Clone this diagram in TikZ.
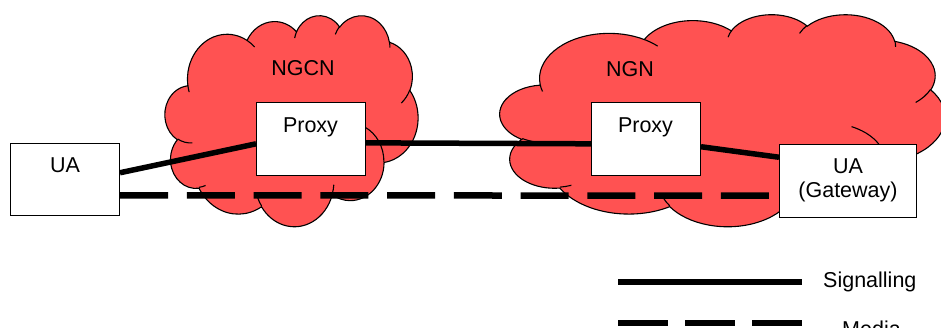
\documentclass[tikz,border=0pt]{standalone}
\usepackage{fontspec}
\setmainfont{Liberation Sans}
\definecolor{cloudred}{RGB}{255,82,82}
\tikzset{
  cld/.code n args={4}{%
    \pgfmathsetmacro\cldTs{atan2((#1)*sin(#3),(#2)*cos(#3))}%
    \pgfmathsetmacro\cldTe{atan2((#1)*sin(#3+#4),(#2)*cos(#3+#4))}%
    \pgfmathsetmacro\cldD{mod(\cldTe-\cldTs+720,360)}%
    \edef\cldtmp{\noexpand\pgfkeysalso{x radius=#1,y radius=#2,start angle=\cldTs,delta angle=\cldD}}%
    \cldtmp},
  cloudbody/.style={fill=cloudred, draw=black, line width=1.1pt},
  crease/.style={draw=black, line width=1.1pt},
  box/.style={draw=black, fill=white, line width=1pt, inner sep=0pt},
  lbl/.style={font=\fontsize{21.5}{24}\selectfont, inner sep=0pt, anchor=base},
  sig/.style={line width=5.5pt},
  media/.style={line width=6.5pt, dash pattern=on 48pt off 18.75pt},
}
\newcommand\drawcloud[4]{%
 \begin{scope}[shift={(#1,#2)},xscale=#3/43.2,yscale=#4/43.2]
  \path[cloudbody] (3.900,14.370)
    arc[cld={6.753}{9.190}{-190.4875}{123.7805}]
    arc[cld={5.333}{7.267}{-144.1024}{89.9452}]
    arc[cld={4.365}{5.945}{-145.8079}{99.7230}]
    arc[cld={4.857}{6.595}{-130.9861}{117.2417}]
    arc[cld={5.333}{7.273}{-78.7089}{109.0269}]
    arc[cld={6.775}{9.220}{-46.2673}{130.2690}]
    arc[cld={5.785}{7.867}{0.6250}{114.0333}]
    arc[cld={6.752}{9.215}{22.4516}{115.1726}]
    arc[cld={7.720}{10.543}{66.2426}{75.7110}]
    arc[cld={4.360}{5.918}{-274.9421}{146.7356}]
    arc[cld={4.345}{5.945}{-246.8285}{152.5225}]
    -- cycle;
  \path[crease]
    (4.693,26.177) arc[cld={4.345}{5.945}{86.7420}{26.4295}]
    (6.928,34.899) arc[cld={4.360}{5.918}{73.6105}{11.4475}]
    (16.478,39.090) arc[cld={6.752}{9.215}{137.6242}{14.0811}]
    (28.827,34.751) arc[cld={6.752}{9.215}{6.4533}{15.9984}]
    (34.129,22.954) arc[cld={5.785}{7.867}{-70.2924}{70.9174}]
    (41.798,15.354) arc[cld={5.333}{7.273}{30.3180}{27.7515}]
    (38.324,5.426) arc[cld={4.857}{6.595}{-13.7443}{14.8589}]
    (29.078,3.952) arc[cld={4.857}{6.595}{-149.1815}{18.1954}]
    (22.141,4.720) arc[cld={4.365}{5.945}{-163.4943}{17.6864}]
    (14.000,5.192) arc[cld={6.753}{9.190}{-66.7070}{12.3194}]
    (4.127,15.789) arc[cld={6.753}{9.190}{157.6544}{11.8582}];
 \end{scope}}
\begin{document}
\begin{tikzpicture}[x=1pt,y=1pt,yscale=-1]
\useasboundingbox (0,0) rectangle (941,327);
% clouds
\drawcloud{165}{15}{253}{211}
\drawcloud{500}{14}{445}{212}
% boxes
\node[box, minimum width=109pt, minimum height=72pt, anchor=north west] (ua) at (10,143) {};
\node[box, minimum width=109pt, minimum height=73pt, anchor=north west] (p1) at (256,102) {};
\node[box, minimum width=109pt, minimum height=73pt, anchor=north west] (p2) at (591,102) {};
\node[box, minimum width=137pt, minimum height=73pt, anchor=north west] (gw) at (779,144) {};
% texts
\node[lbl] (ngcn) at (303,75.5) {NGCN};
\node[lbl] (ngn) at (630,76) {NGN};
\node[lbl] (uat) at (65,172) {UA};
\node[lbl] (p1t) at (310.5,132) {Proxy};
\node[lbl] (p2t) at (645.5,132) {Proxy};
\node[lbl] (gwt1) at (848,173) {UA};
\node[lbl] (gwt2) at (848,197) {(Gateway)};
% connectors
\draw[sig] (ua.7) -- (p1.185);
\draw[sig] (p1.-4) -- (p2.185);
\draw[sig] (p2.-8) -- (gw.161);
\draw[media] (ua.-16) -- (gw.192);
% legend
\coordinate (sa) at (618,282);
\coordinate (sb) at (802,282);
\coordinate (ma) at (618,323);
\coordinate (mb) at (802,323);
\draw[sig] (sa) -- (sb);
\draw[media, dash pattern=on 50pt off 17pt] (ma) -- (mb);
\node[lbl, anchor=base west] (sigt) at (823,287) {Signalling};
\node[lbl, anchor=base west] (medt) at (842,336) {Media};
\end{tikzpicture}
\end{document}
